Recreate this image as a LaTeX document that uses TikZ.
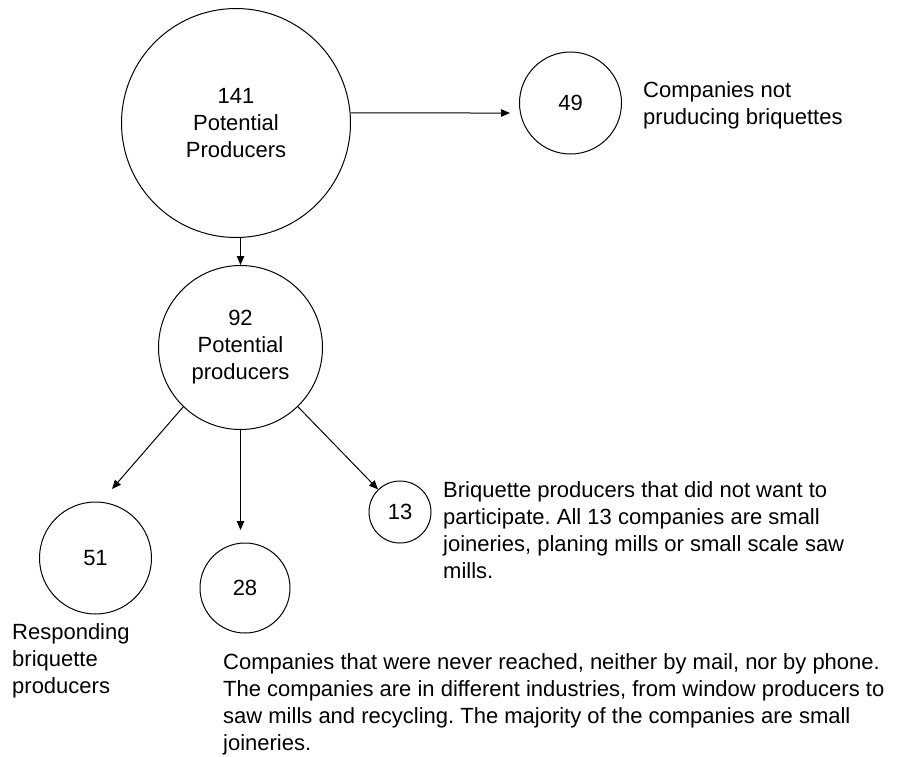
\documentclass[tikz,border=0pt]{standalone}
\usepackage{fontspec}
\setmainfont{Liberation Sans}
\usetikzlibrary{arrows.meta}
\frenchspacing
\begin{document}
\begin{tikzpicture}[x=1pt,y=-1pt,
  bub/.style={circle,draw=black,line width=1pt,inner sep=0pt,align=center,font=\fontsize{22}{27}\selectfont},
  lbl/.style={inner sep=0pt,align=left,anchor=north west,font=\fontsize{22}{27}\selectfont},
  arr/.style={line width=1pt,-{Triangle[length=9pt,width=7.5pt]}}]
\useasboundingbox (0,0) rectangle (905,756);
% circles
\node[bub,minimum size=229pt] (c141) at (236,123) {141\\Potential\\Producers};
\node[bub,minimum size=102pt] (c49) at (570.5,103) {49};
\node[bub,minimum size=164pt] (c92) at (240.5,347.5) {92\\Potential\\producers};
\node[bub,minimum size=112pt] (c51) at (95.5,558) {51};
\node[bub,minimum size=90pt] (c28) at (245,588) {28};
\node[bub,minimum size=62pt] (c13) at (400,512) {13};
% free arrow ends
\coordinate (e49) at (510,113);
\coordinate (e51) at (112,489);
\coordinate (e28) at (240.5,530);
% labels
\node[lbl] (t49) at (643,81) {Companies not\\pruducing briquettes};
\node[lbl] (t13) at (443,481) {Briquette producers that did not want to\\participate. All 13 companies are small\\joineries, planing mills or small scale saw\\mills.};
\node[lbl] (t51) at (12,623) {Responding\\briquette\\producers};
\node[lbl] (t28) at (223,653) {Companies that were never reached, neither by mail, nor by phone.\\The companies are in different industries, from window producers to\\saw mills and recycling. The majority of the companies are small\\joineries.};
% connectors
\draw[arr] (c141.5) -- (e49);
\draw[arr] (c141.south -| c92.north) -- (c92.north);
\draw[arr] (c92.226) -- (e51);
\draw[arr] (c92.south) -- (e28);
\draw[arr] (c92) -- (c13);
\end{tikzpicture}
\end{document}
